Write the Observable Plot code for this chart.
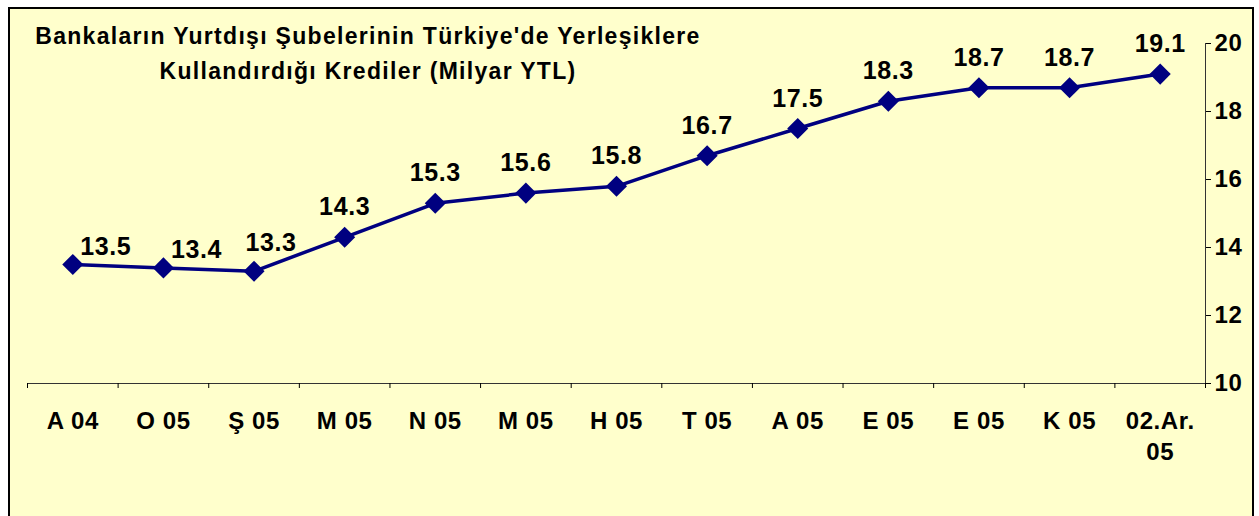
<!DOCTYPE html>
<html>
<head>
<meta charset="utf-8">
<script src="https://cdn.jsdelivr.net/npm/d3@7"></script>
<script src="https://cdn.jsdelivr.net/npm/@observablehq/plot@0.6"></script>
<style>
  html, body { margin: 0; padding: 0; background: #ffffff; }
  body { width: 1259px; height: 516px; position: relative; overflow: hidden; font-family: "Liberation Sans", Arial, sans-serif; }
  #panel { position: absolute; left: 8px; top: 7px; width: 1242px; height: 530px; background: #FFFFCC; border: 2px solid #000; }
  #chart { position: absolute; left: 0; top: 0; }
  #chart svg text { letter-spacing: 0.6px; }
  #title { position: absolute; left: 0; top: 19px; width: 736px; text-align: center; font-weight: bold; font-size: 23px; letter-spacing: 1.3px; line-height: 35px; color: #000; }
</style>
</head>
<body>
<div id="panel"></div>
<div id="chart"></div>
<div id="title">Bankaların Yurtdışı Şubelerinin Türkiye'de Yerleşiklere<br>Kullandırdığı Krediler (Milyar YTL)</div>
<script>
const categories = ["A 04", "O 05", "Ş 05", "M 05", "N 05", "M 05", "H 05", "T 05", "A 05", "E 05", "E 05", "K 05", "02.Ar.\n05"];
const values = [13.5, 13.4, 13.3, 14.3, 15.3, 15.6, 15.8, 16.7, 17.5, 18.3, 18.7, 18.7, 19.1];
const yTicks = [10, 12, 14, 16, 18, 20];

const data = categories.map((c, i) => ({i, c, v: values[i]}));
const boundaries = d3.range(categories.length + 1).map(k => k - 0.5);
const navy = "#000080";
const font = "Liberation Sans, Arial, sans-serif";

const chart = Plot.plot({
  width: 1259,
  height: 516,
  marginLeft: 27,
  marginRight: 54,
  marginTop: 43,
  marginBottom: 133,
  style: {background: "transparent", fontFamily: font, color: "#000", overflow: "visible"},
  x: {type: "linear", domain: [-0.5, categories.length - 0.5], axis: null},
  y: {domain: [10, 20], axis: null},
  marks: [
    Plot.ruleY([10], {stroke: "#333", strokeWidth: 1}),
    Plot.ruleX([categories.length - 0.5], {stroke: "#333", strokeWidth: 1}),
    Plot.axisY({anchor: "right", ticks: yTicks, tickSize: 5, tickPadding: 4, label: null,
      fontSize: 24, fontWeight: "bold", fill: "#000", tickFormat: d => String(d)}),
    Plot.axisX({ticks: boundaries, tickSize: 5, tickFormat: () => "", label: null}),
    Plot.axisX({ticks: d3.range(categories.length), tickSize: 0, tickPadding: 23, label: null,
      tickFormat: k => categories[k], fontSize: 24, fontWeight: "bold", lineHeight: 1.3, fill: "#000"}),
    Plot.line(data, {x: "i", y: "v", stroke: navy, strokeWidth: 3.5}),
    Plot.dot(data, {x: "i", y: "v", symbol: "diamond2", r: 9.5, fill: navy, stroke: "none"}),
    Plot.text(data.filter(d => d.i < 2), {x: "i", y: "v", text: d => d.v.toFixed(1), dx: 33, dy: -18,
      fontSize: 25, fontWeight: "bold", fill: "#000"}),
    Plot.text(data.filter(d => d.i === 2), {x: "i", y: "v", text: d => d.v.toFixed(1), dx: 17, dy: -28,
      fontSize: 25, fontWeight: "bold", fill: "#000"}),
    Plot.text(data.filter(d => d.i > 2), {x: "i", y: "v", text: d => d.v.toFixed(1), dy: -30,
      fontSize: 25, fontWeight: "bold", fill: "#000"})
  ]
});
document.getElementById("chart").appendChild(chart);
</script>
</body>
</html>
